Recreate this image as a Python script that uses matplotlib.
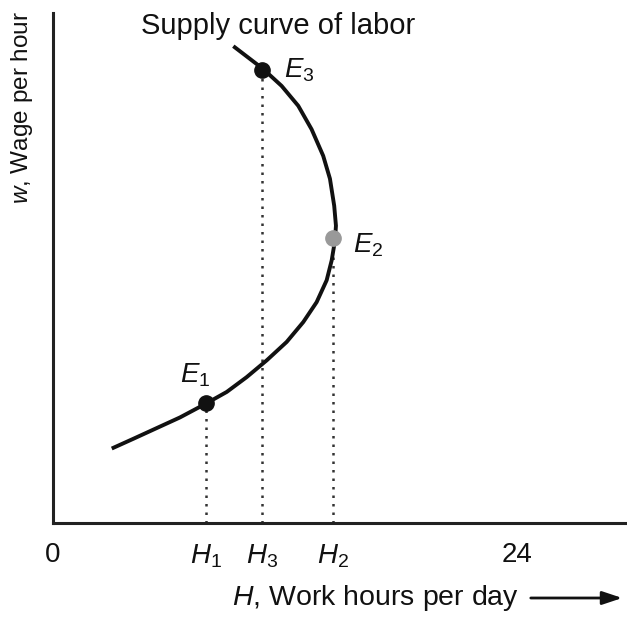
import matplotlib
matplotlib.use("Agg")
import matplotlib.pyplot as plt

plt.rcParams['font.family'] = ['Liberation Sans', 'DejaVu Sans']
plt.rcParams['mathtext.fontset'] = 'custom'
plt.rcParams['mathtext.rm'] = 'Liberation Sans'
plt.rcParams['mathtext.it'] = 'Liberation Sans:italic'

# Supply curve of labor (hours per day, wage per hour)
curve_hours = [3.04, 4.15, 5.36, 6.57, 7.86, 8.99, 10.02, 11.06, 12.09, 12.95,
               13.64, 14.16, 14.42, 14.59, 14.64, 14.55, 14.33, 13.98, 13.38,
               12.69, 11.83, 10.88, 9.33]
curve_wage = [1.46, 1.65, 1.86, 2.07, 2.33, 2.57, 2.86, 3.19, 3.55, 3.94,
              4.33, 4.76, 5.15, 5.54, 5.83, 6.22, 6.75, 7.20, 7.72,
              8.18, 8.57, 8.90, 9.35]

# Equilibrium points E1, E2, E3
eq_names = ['$E_1$', '$E_2$', '$E_3$']
eq_hours = [7.9, 14.5, 10.8]
eq_wage = [2.35, 5.58, 8.88]
eq_colors = ['#111111', '#999999', '#111111']

# x tick labels
tick_pos = [0, 7.9, 10.8, 14.5, 24]
tick_labels = ['0', '$H_1$', '$H_3$', '$H_2$', '24']

fig = plt.figure(figsize=(6.27, 6.18), dpi=100)
ax = fig.add_axes([53/627, 95/618, 574/627, 510/618])
ax.set_xlim(0, 29.7)
ax.set_ylim(0, 10.0)

for s in ['top', 'right']:
    ax.spines[s].set_visible(False)
for s in ['left', 'bottom']:
    ax.spines[s].set_linewidth(2.2)
    ax.spines[s].set_color('#222222')

# dotted drop lines
for h, w in zip(eq_hours, eq_wage):
    ax.plot([h, h], [0, w], color='#333333', lw=1.8,
            linestyle=(0, (1, 2.4)), zorder=1)

ax.plot(curve_hours, curve_wage, color='#111111', lw=2.8,
        solid_capstyle='butt', solid_joinstyle='round', zorder=2)

offsets = [(-10, 28), (35, -7), (38, 0)]
for name, h, w, c, off in zip(eq_names, eq_hours, eq_wage, eq_colors, offsets):
    ax.plot([h], [w], 'o', color=c, ms=11, zorder=3)
    ax.annotate(name, (h, w), xytext=off, textcoords='offset pixels',
                ha='center', va='center', fontsize=20, color='#111111')

ax.set_xticks(tick_pos)
ax.set_xticklabels(tick_labels, fontsize=20, color='#111111')
ax.tick_params(axis='x', length=0, pad=14)
ax.set_yticks([])

fig.text(278/627, 1 - 26/618, 'Supply curve of labor', ha='center', va='center',
         fontsize=21, color='#111111')
fig.text(22/627, 1 - 108/618, '$w$, Wage per hour', rotation=90,
         ha='center', va='center', fontsize=17.5, color='#111111')
fig.text(232/627, 1 - 598/618, '$H$, Work hours per day', ha='left', va='center',
         fontsize=20.5, color='#111111')
fig.add_artist(matplotlib.patches.FancyArrowPatch(
    (528/627, 1 - 598/618), (625/627, 1 - 598/618), transform=fig.transFigure,
    arrowstyle='-|>,head_length=12,head_width=4', mutation_scale=1,
    color='#111111', lw=2))

fig.savefig('out.png', dpi=100, facecolor='white')
